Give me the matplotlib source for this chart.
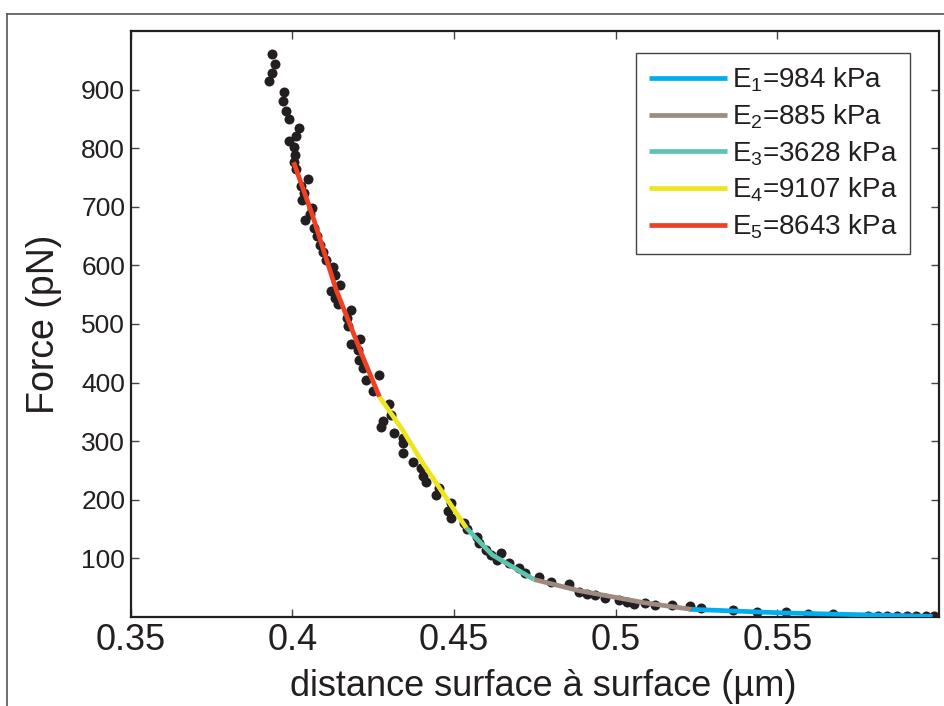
import matplotlib
matplotlib.use("Agg")
import matplotlib.pyplot as plt
from matplotlib.lines import Line2D

plt.rcParams['font.family'] = ['Liberation Sans', 'DejaVu Sans']
plt.rcParams['mathtext.fontset'] = 'custom'
plt.rcParams['mathtext.rm'] = 'Liberation Sans'
plt.rcParams['mathtext.it'] = 'Liberation Sans'

# measured points: distance (µm) and force (pN)
distance = [0.3938, 0.3945, 0.3937, 0.3928, 0.3974, 0.3971, 0.3979, 0.3991, 0.4019, 0.4012,
            0.3991, 0.4004, 0.4007, 0.4004, 0.4012, 0.4048, 0.4027, 0.4035, 0.4031, 0.4061,
            0.4053, 0.4038, 0.4068, 0.4076, 0.4084, 0.4094, 0.4105, 0.4127, 0.4133, 0.4146,
            0.4120, 0.4133, 0.4140, 0.4180, 0.4168, 0.4171, 0.4210, 0.4182, 0.4202, 0.4207,
            0.4217, 0.4269, 0.4228, 0.4250, 0.4298, 0.4305, 0.4279, 0.4274, 0.4315, 0.4341,
            0.4341, 0.4343, 0.4372, 0.4398, 0.4403, 0.4413, 0.4452, 0.4444, 0.4490, 0.4480,
            0.4490, 0.4531, 0.4541, 0.4572, 0.4577, 0.4598, 0.4614, 0.4644, 0.4634, 0.4670,
            0.4701, 0.4721, 0.4762, 0.4799, 0.4855, 0.4886, 0.4911, 0.4937, 0.4968, 0.5009,
            0.5035, 0.5056, 0.5092, 0.5122, 0.5174, 0.5230, 0.5264, 0.5364, 0.5436, 0.5528,
            0.5595, 0.5672, 0.5780, 0.5810, 0.5840, 0.5870, 0.5900, 0.5930, 0.5960, 0.5985]
force = [961, 944, 929, 914, 896, 881, 864, 849, 834, 820,
         812, 802, 789, 776, 764, 748, 735, 724, 711, 698,
         688, 677, 664, 650, 635, 622, 610, 598, 584, 567,
         556, 544, 534, 524, 510, 496, 474, 466, 456, 439,
         425, 413, 405, 385, 364, 345, 334, 325, 314, 305,
         297, 280, 265, 254, 240, 231, 220, 208, 194, 180,
         169, 160, 150, 137, 126, 114, 106, 110, 97, 92,
         83, 75, 69, 60, 56, 43, 40, 38, 32, 29,
         26, 22, 24, 20, 20, 18, 16, 12, 9, 8,
         5, 4.6, 2, 1.5, 1.5, 1.5, 1.5, 1.5, 1.5, 1.5]

# fitted segments
fit1_x = [0.5235, 0.5513, 0.5980]
fit1_y = [13, 7, 1]
fit2_x = [0.4747, 0.4886, 0.5092, 0.5235]
fit2_y = [64, 45, 24, 13]
fit3_x = [0.4538, 0.4618, 0.4747]
fit3_y = [152, 106, 64]
fit4_x = [0.4269, 0.4341, 0.4403, 0.4538]
fit4_y = [376, 319, 263, 152]
fit5_x = [0.4004, 0.4063, 0.4135, 0.4217, 0.4269]
fit5_y = [776, 684, 559, 445, 376]

fit_labels = [r'$\mathregular{E_1}$=984 kPa', r'$\mathregular{E_2}$=885 kPa',
              r'$\mathregular{E_3}$=3628 kPa', r'$\mathregular{E_4}$=9107 kPa',
              r'$\mathregular{E_5}$=8643 kPa']
fit_colors = ['#00aeef', '#9e8a7e', '#5ec4b0', '#ede61e', '#ee4124']

x_ticks = [0.35, 0.4, 0.45, 0.5, 0.55]
x_ticklabels = ['0.35', '0.4', '0.45', '0.5', '0.55']
y_ticks = [100, 200, 300, 400, 500, 600, 700, 800, 900]

fig = plt.figure(figsize=(9.44, 7.06), dpi=100)
ax = fig.add_axes([0.1385, 0.1261, 0.8562, 0.8300])

ax.plot(distance, force, 'o', color='#231f20', markersize=7.2, markeredgewidth=0, zorder=2)

fits = [(fit1_x, fit1_y), (fit2_x, fit2_y), (fit3_x, fit3_y), (fit4_x, fit4_y), (fit5_x, fit5_y)]
for (fx, fy), lab, col in zip(fits, fit_labels, fit_colors):
    ax.plot(fx, fy, '-', color=col, lw=3.4, label=lab, zorder=3, solid_capstyle='butt')

ax.set_xlim(0.35, 0.6)
ax.set_ylim(0, 1000)
ax.set_xticks(x_ticks)
ax.set_xticklabels(x_ticklabels)
ax.set_yticks(y_ticks)
ax.tick_params(axis='both', direction='in', top=True, right=True, length=5.5, width=1,
               color='#444444')
ax.tick_params(axis='x', labelsize=26, pad=4, labelcolor='#231f20')
ax.tick_params(axis='y', labelsize=19, pad=4, labelcolor='#231f20')
for sp in ax.spines.values():
    sp.set_linewidth(1.6)
    sp.set_color('#231f20')

ax.set_xlabel('distance surface à surface (µm)', fontsize=26, color='#231f20', labelpad=8,
              x=0.51)
ax.set_ylabel('Force (pN)', fontsize=27, color='#231f20', labelpad=14)

leg = ax.legend(loc='upper right', bbox_to_anchor=(0.9641, 0.9625), fontsize=20,
                frameon=True, fancybox=False, shadow=False, framealpha=1,
                handlelength=2.8, handletextpad=0.18, labelspacing=0.3,
                borderpad=0.45, borderaxespad=0)
leg.get_frame().set_edgecolor('#444444')
leg.get_frame().set_linewidth(1.0)
for t in leg.get_texts():
    t.set_color('#231f20')

# outer frame
fig.add_artist(Line2D([0.0079, 0.0079], [0.0, 0.980], transform=fig.transFigure,
                      color='#555555', lw=1.2))
fig.add_artist(Line2D([0.0079, 1.0], [0.980, 0.980], transform=fig.transFigure,
                      color='#555555', lw=1.2))

fig.savefig('out.png', dpi=100)
